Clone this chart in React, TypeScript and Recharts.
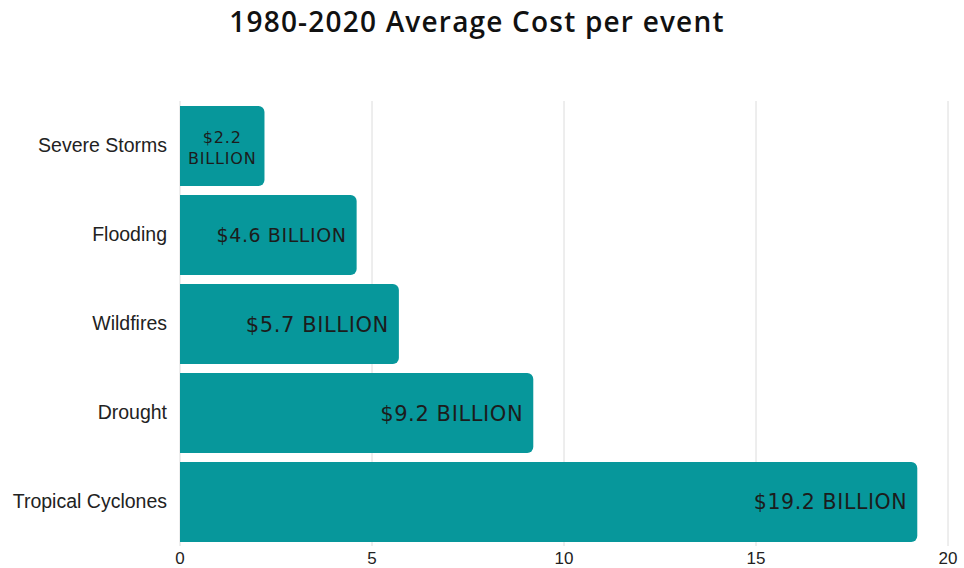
import React from 'react'
import { BarChart, Bar, XAxis, YAxis, CartesianGrid, LabelList } from 'recharts'

const categories = ['Severe Storms', 'Flooding', 'Wildfires', 'Drought', 'Tropical Cyclones']
const costs = [2.2, 4.6, 5.7, 9.2, 19.2]
const xTicks = [0, 5, 10, 15, 20]

// label font size per bar, matches the look of the original
const LABEL_SIZES = [16, 19, 21, 21, 20.5]

const data = categories.map((name, i) => ({ name, cost: costs[i] }))

const BAR_COLOR = '#07979b'
const LABEL_FONT = '"DejaVu Sans", sans-serif'
const AXIS_FONT = '"Liberation Sans", Arial, sans-serif'

function CostLabel(props: any) {
  const { x, y, width, height, value, index } = props
  const size = LABEL_SIZES[index] ?? 18
  const cy = y + height / 2
  if (width < 100) {
    const cx = x + width / 2
    return (
      <text x={cx} textAnchor="middle" fontSize={size} fontFamily={LABEL_FONT} fill="#1c1c1c" letterSpacing={0.8}>
        <tspan x={cx} y={cy - 3}>{`$${value}`}</tspan>
        <tspan x={cx} y={cy + 18}>BILLION</tspan>
      </text>
    )
  }
  return (
    <text x={x + width - 10} y={cy} dy="0.36em" textAnchor="end" fontSize={size} fontFamily={LABEL_FONT}
      fill="#1c1c1c" letterSpacing={0.6}>
      {`$${value} BILLION`}
    </text>
  )
}

export default function App() {
  return (
    <div style={{ position: 'fixed', left: 0, top: 0, width: 964, height: 568, background: '#fff' }}>
      <div style={{
        position: 'absolute', top: 2, left: 0, width: 954, textAlign: 'center',
        fontFamily: '"Open Sans", sans-serif', fontWeight: 600, fontSize: 28, letterSpacing: 1.2, color: '#111',
      }}>
        1980-2020 Average Cost per event
      </div>
      <BarChart
        width={964}
        height={568}
        data={data}
        layout="vertical"
        margin={{ top: 101, right: 16, bottom: 0, left: 0 }}
        barCategoryGap={0}
      >
        <CartesianGrid horizontal={false} stroke="#dcdcdc" />
        <XAxis
          type="number"
          domain={[0, 20]}
          ticks={xTicks}
          axisLine={false}
          tickLine={false}
          height={22}
          tickMargin={0}
          tick={{ fontSize: 17, fill: '#222', fontFamily: AXIS_FONT }}
        />
        <YAxis
          type="category"
          dataKey="name"
          width={180}
          axisLine={false}
          tickLine={false}
          tickMargin={7}
          tick={{ fontSize: 19.5, fill: '#222', fontFamily: AXIS_FONT }}
        />
        <Bar dataKey="cost" fill={BAR_COLOR} barSize={80} radius={[0, 6, 6, 0]} isAnimationActive={false}>
          <LabelList dataKey="cost" content={<CostLabel />} />
        </Bar>
      </BarChart>
    </div>
  )
}
